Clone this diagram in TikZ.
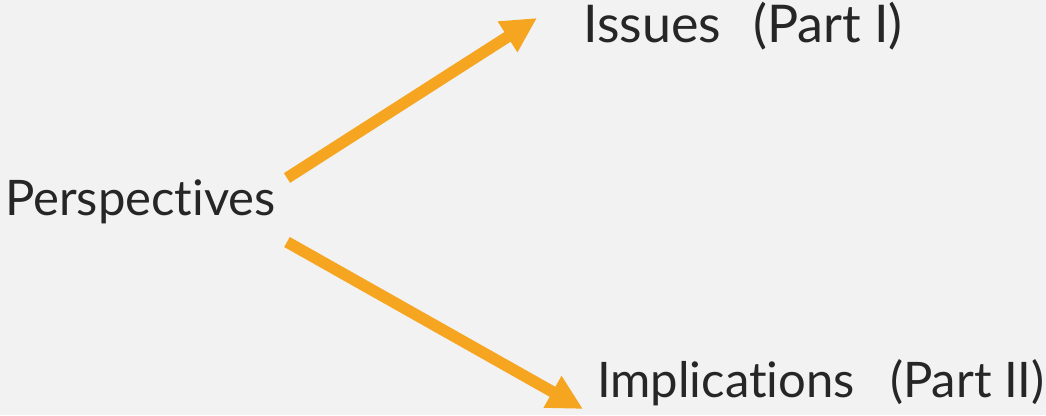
\documentclass[tikz,border=0pt]{standalone}
\usepackage{fontspec}
\setmainfont{Lato}[Ligatures={NoCommon}]
\usetikzlibrary{arrows.meta}
\definecolor{bgcol}{HTML}{F2F2F2}
\definecolor{arrowcol}{HTML}{F5A520}
\definecolor{textcol}{HTML}{262626}
\tikzset{
  label text/.style={anchor=base west, inner sep=0pt, text=textcol},
  flow/.style={draw=arrowcol, line width=11.5pt, line cap=butt,
    -{Triangle[width=34pt, length=35pt]}},
}
\newcommand{\gapsp}{\hspace{0.62em}}
\begin{document}
\begin{tikzpicture}[x=1pt, y=-1pt]
  \fill[bgcol] (0,0) rectangle (1046,415);
  \useasboundingbox (0,0) rectangle (1046,415);

  \node[label text, font=\fontsize{49}{58}\selectfont] (per) at (5,215) {Perspectives};
  \node[label text, font=\fontsize{52}{60}\selectfont] (iss) at (583,42) {Issues\gapsp(Part I)};
  \node[label text, font=\fontsize{49}{56}\selectfont] (imp) at (597,397) {Implications\gapsp\hspace{0.1em}(Part II)};

  % arrow ends, placed beside the labels
  \coordinate (upstart) at (287,178);
  \coordinate (upend) at (537,18);
  \coordinate (downstart) at (287,242);
  \coordinate (downend) at (583,409);

  \draw[flow] (upstart) -- (upend);
  \draw[flow] (downstart) -- (downend);
\end{tikzpicture}
\end{document}
